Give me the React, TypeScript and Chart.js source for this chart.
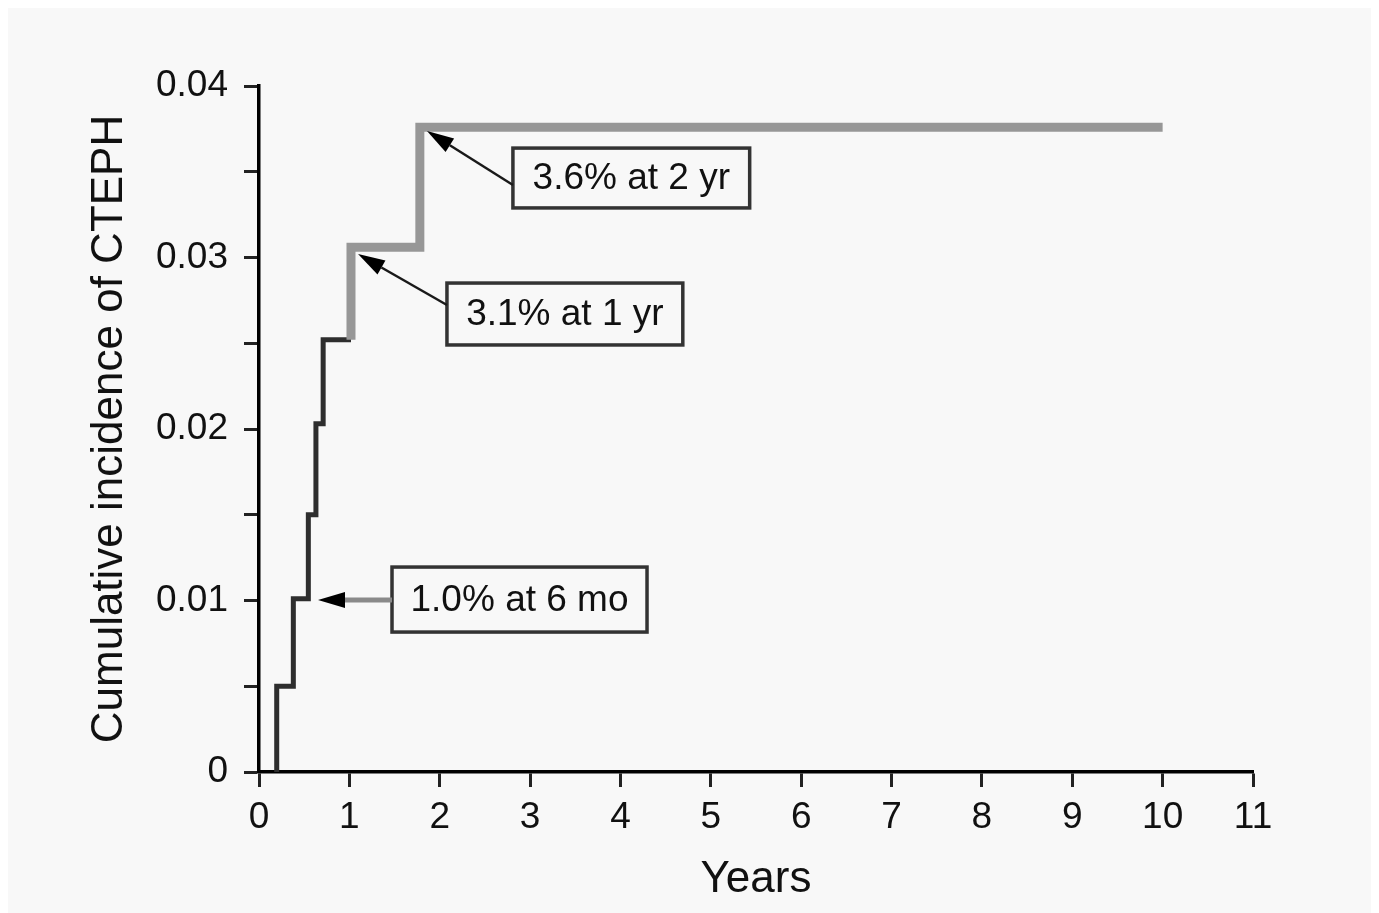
import React, { useEffect, useRef } from 'react';
import { Chart, registerables } from 'chart.js';

Chart.register(...registerables);

// ---- data ----
const eventYears = [0.196, 0.38, 0.546, 0.63, 0.71, 1.018, 1.78];
const cumulativeIncidence = [0.005, 0.0101, 0.015, 0.0203, 0.0252, 0.0306, 0.0376];
const followUpEndYears = 10.0;
const xTickValues = [0, 1, 2, 3, 4, 5, 6, 7, 8, 9, 10, 11];
const yTickLabels = ['0', '0.01', '0.02', '0.03', '0.04'];
const annotationTexts = ['3.6% at 2 yr', '3.1% at 1 yr', '1.0% at 6 mo'];

// ---- annotation placement (data units), kept apart from the data ----
const annotationLayout = [
  { tip: [1.859, 0.03738], startY: 0.03423, box: [2.81, 5.43, 0.03638, 0.03289], shaftColor: '#1a1a1a', shaftWidth: 2.5 },
  { tip: [1.096, 0.0302], startY: 0.02723, box: [2.08, 4.69, 0.02851, 0.0249], shaftColor: '#1a1a1a', shaftWidth: 2.5 },
  { tip: [0.653, 0.01003], startY: 0.01003, box: [1.472, 4.294, 0.01195, 0.00816], shaftColor: '#8a8a8a', shaftWidth: 5 },
];

const FONT = '"Liberation Sans", Arial, Helvetica, sans-serif';
const BG = '#f8f8f8';

function buildSteps() {
  const pts: { x: number; y: number }[] = [{ x: eventYears[0], y: 0 }];
  for (let i = 0; i < eventYears.length; i++) {
    if (i > 0) pts.push({ x: eventYears[i], y: cumulativeIncidence[i - 1] });
    pts.push({ x: eventYears[i], y: cumulativeIncidence[i] });
  }
  pts.push({ x: followUpEndYears, y: cumulativeIncidence[cumulativeIncidence.length - 1] });
  return pts;
}

const annotationPlugin = {
  id: 'calloutBoxes',
  afterDatasetsDraw(chart: any) {
    const { ctx, scales } = chart;
    const xs = scales.x;
    const ys = scales.y;
    ctx.save();
    annotationLayout.forEach((a, i) => {
      const [bx0, bx1, byT, byB] = a.box;
      const left = xs.getPixelForValue(bx0);
      const right = xs.getPixelForValue(bx1);
      const top = ys.getPixelForValue(byT);
      const bottom = ys.getPixelForValue(byB);
      // box
      ctx.fillStyle = BG;
      ctx.fillRect(left, top, right - left, bottom - top);
      ctx.strokeStyle = '#333';
      ctx.lineWidth = 3.5;
      ctx.strokeRect(left, top, right - left, bottom - top);
      // text
      ctx.fillStyle = '#111';
      ctx.font = `37px ${FONT}`;
      ctx.textAlign = 'center';
      ctx.textBaseline = 'middle';
      ctx.fillText(annotationTexts[i], (left + right) / 2, (top + bottom) / 2 + 1);
      // arrow
      const sx = left;
      const sy = ys.getPixelForValue(a.startY);
      const tx = xs.getPixelForValue(a.tip[0]);
      const ty = ys.getPixelForValue(a.tip[1]);
      const ang = Math.atan2(ty - sy, tx - sx);
      const headLen = 27;
      const headHalf = 8;
      const bx = tx - headLen * Math.cos(ang);
      const by = ty - headLen * Math.sin(ang);
      ctx.strokeStyle = a.shaftColor;
      ctx.lineWidth = a.shaftWidth;
      ctx.beginPath();
      ctx.moveTo(sx, sy);
      ctx.lineTo(bx, by);
      ctx.stroke();
      ctx.fillStyle = '#000';
      ctx.beginPath();
      ctx.moveTo(tx, ty);
      ctx.lineTo(bx + headHalf * Math.sin(ang), by - headHalf * Math.cos(ang));
      ctx.lineTo(bx - headHalf * Math.sin(ang), by + headHalf * Math.cos(ang));
      ctx.closePath();
      ctx.fill();
    });
    ctx.restore();
  },
};

export default function App() {
  const ref = useRef<HTMLCanvasElement | null>(null);

  useEffect(() => {
    document.documentElement.style.overflow = 'hidden';
    document.body.style.overflow = 'hidden';
    if (!ref.current) return;
    const chart = new Chart(ref.current, {
      type: 'line',
      data: {
        datasets: [
          {
            data: buildSteps(),
            borderColor: '#333',
            borderWidth: 5,
            pointRadius: 0,
            tension: 0,
            fill: false,
            borderJoinStyle: 'miter',
            borderCapStyle: 'butt',
            segment: {
              borderColor: (c: any) => (c.p1.parsed.y > 0.028 ? '#979797' : '#2e2e2e'),
              borderWidth: (c: any) => (c.p1.parsed.y > 0.028 ? 9 : 5),
            },
          } as any,
        ],
      },
      options: {
        animation: false,
        responsive: true,
        maintainAspectRatio: false,
        layout: { padding: { top: 78, right: 126, left: 0, bottom: 0 } },
        plugins: { legend: { display: false }, tooltip: { enabled: false } },
        scales: {
          x: {
            type: 'linear',
            min: 0,
            max: 11,
            afterFit: (s: any) => { s.height = 141; },
            afterBuildTicks: (s: any) => { s.ticks = xTickValues.map((v) => ({ value: v })); },
            ticks: {
              stepSize: 1,
              color: '#111',
              padding: 9,
              font: { family: FONT, size: 37 },
              maxRotation: 0,
              callback: (v: any) => String(v),
            },
            grid: { drawOnChartArea: false, drawTicks: true, tickLength: 15, tickWidth: 3, tickColor: '#222' },
            border: { display: true, color: '#000', width: 3.5 },
            title: { display: true, text: 'Years', color: '#111', font: { family: FONT, size: 44 }, padding: { top: 0, bottom: 7 } },
          },
          y: {
            type: 'linear',
            min: 0,
            max: 0.04,
            afterFit: (s: any) => { s.width = 251; },
            ticks: {
              stepSize: 0.005,
              color: '#111',
              padding: 16,
              font: { family: FONT, size: 37 },
              callback: (v: any) => {
                const k = Math.round(v * 200);
                if (k % 2 !== 0) return '';
                return yTickLabels[k / 2] ?? '';
              },
            },
            grid: { drawOnChartArea: false, drawTicks: true, tickLength: 15, tickWidth: 3, tickColor: '#222' },
            border: { display: true, color: '#000', width: 3.5 },
            title: { display: true, text: 'Cumulative incidence of CTEPH', color: '#111', font: { family: FONT, size: 44 }, padding: { top: 75, bottom: 0 } },
          },
        },
      },
      plugins: [annotationPlugin],
    });
    return () => chart.destroy();
  }, []);

  return (
    <div style={{ width: 1371, height: 905, position: 'relative', background: BG }}>
      <canvas ref={ref} />
    </div>
  );
}
